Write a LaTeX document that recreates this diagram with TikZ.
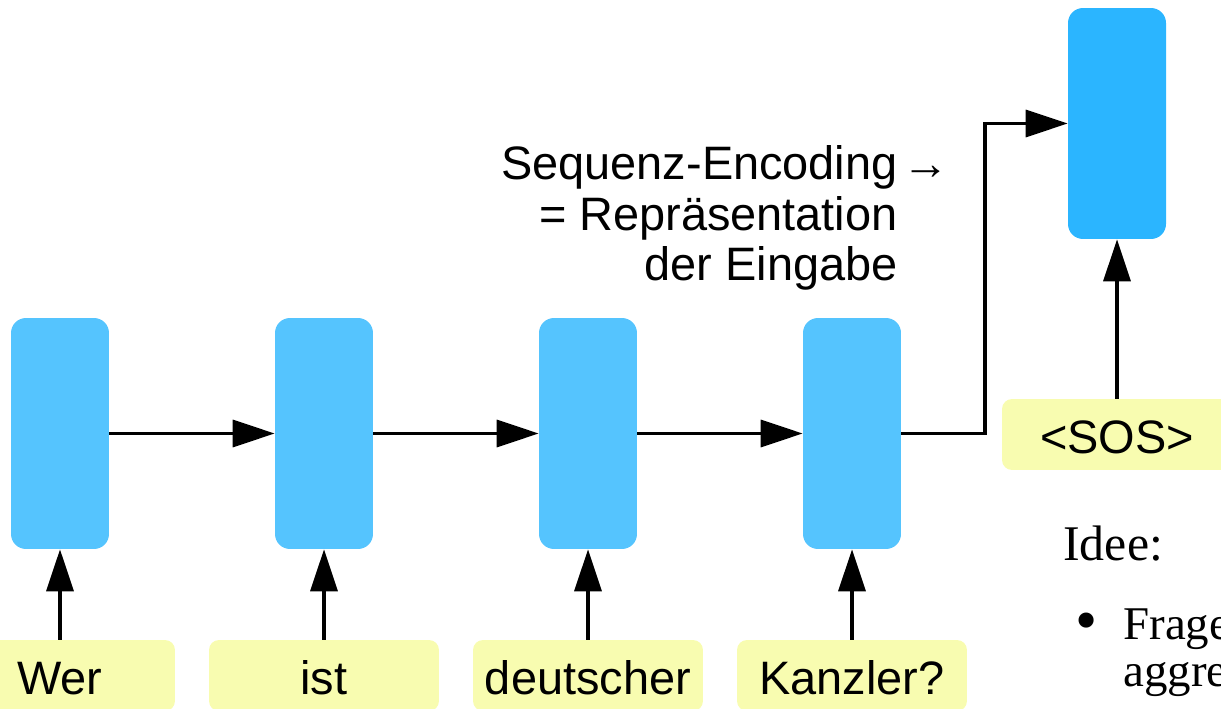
\documentclass[tikz,border=0pt]{standalone}
\usepackage{fontspec}
\setmainfont{Liberation Serif}
\setsansfont{Liberation Sans}
\usetikzlibrary{arrows.meta}
\definecolor{cellblue}{HTML}{55C4FE}
\definecolor{decblue}{HTML}{2BB5FF}
\definecolor{tokyellow}{HTML}{F8FCB0}
\tikzset{
  cell/.style={fill=cellblue, rounded corners=8.5pt, minimum width=1.96cm,
    minimum height=4.62cm, inner sep=0pt},
  token/.style={fill=tokyellow, rounded corners=5.7pt, minimum width=4.6cm,
    minimum height=1.42cm, inner sep=0pt, text height=0.78cm, text depth=0pt,
    font=\sffamily\fontsize{26.7}{29}\selectfont},
  flow/.style={line width=0.066cm, -{Triangle[length=0.84cm, width=0.54cm]}},
}

\begin{document}
\begin{tikzpicture}[x=0.02cm, y=-0.02cm]
  \useasboundingbox (0,0) rectangle (1221,709);
  % encoder: one cell per input word
  \foreach \i/\word in {1/Wer, 2/ist, 3/deutscher, 4/Kanzler?}{
    \node[cell] (enc\i) at ({60+264*(\i-1)},433.5) {};
    \node[token] (tok\i) at ({60+264*(\i-1)},675.5) {\word};
    \draw[flow] (tok\i.north) -- (enc\i.south);
  }
  \foreach \i/\j in {1/2, 2/3, 3/4}
    \draw[flow] (enc\i.east) -- (enc\j.west);

  % decoder start
  \node[cell, fill=decblue] (dec) at (1117,123.5) {};
  \node[token] (sos) at (1117,434.5) {<SOS>};
  \draw[flow] (sos.north) -- (dec.south);

  % last state handed over to the decoder
  \coordinate (knick) at (985,433.5);
  \draw[flow] (enc4.east) -- (knick) |- (dec.west);
  \node[anchor=base east, align=right, inner sep=0pt,
    font=\sffamily\fontsize{26.7}{29}\selectfont] (enclabel) at (898,281)
    {Sequenz-Encoding\rlap{\hspace{0.1cm}→}\\= Repräsentation\\der Eingabe};

  % notes (base anchor sits on the last line)
  \node[anchor=base west, inner sep=0pt, font=\fontsize{28.4}{30}\selectfont]
    (idee) at (1063,561) {Idee:};
  \node[anchor=base east, inner sep=0pt, font=\fontsize{36}{36}\selectfont]
    (bullet) at (1098,641) {\textbullet};
  \node[anchor=base west, align=left, inner sep=0pt,
    font=\fontsize{26.7}{26.7}\selectfont] (frage) at (1123,686) {Frage\\aggre};
\end{tikzpicture}
\end{document}
